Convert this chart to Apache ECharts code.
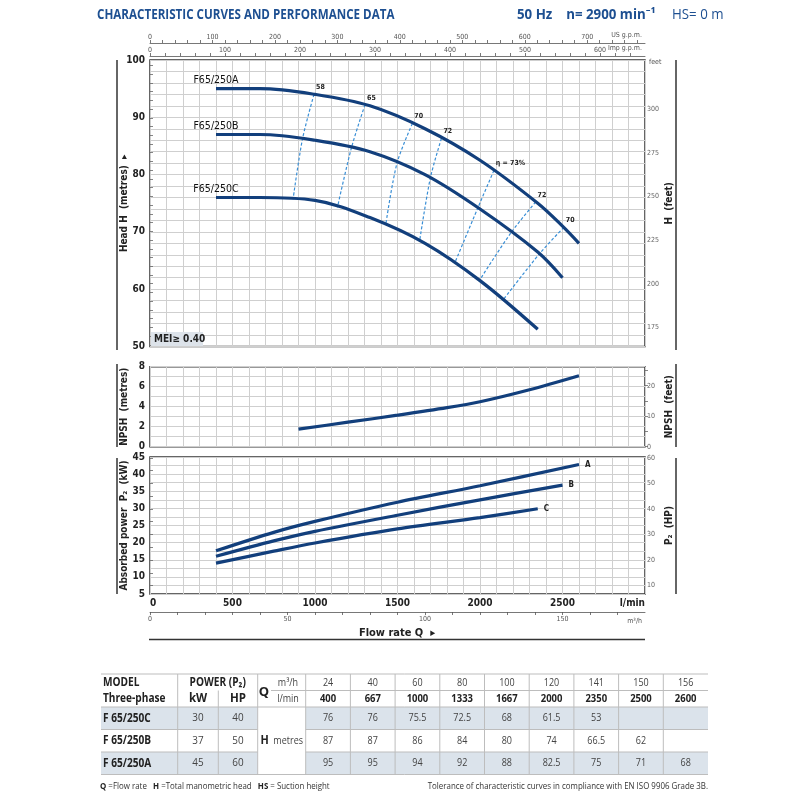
<!DOCTYPE html>
<html>
<head>
    <meta charset="utf-8" />
    <script src="https://cdn.jsdelivr.net/npm/echarts@6/dist/echarts.min.js"></script>
    <style>
        html, body { margin: 0; padding: 0; background: #fff; }
    </style>
</head>
<body>
    <div id="main" style="width: 800px;height:800px;"></div>
    <script type="text/javascript">
        // table / curve data (flow in l/min, head in metres)
        const flowLmin = [400, 667, 1000, 1333, 1667, 2000, 2350, 2500, 2600];
        const flowM3h = [24, 40, 60, 80, 100, 120, 141, 150, 156];
        const headA = [95, 95, 94, 92, 88, 82.5, 75, 71, 68];
        const headB = [87, 87, 86, 84, 80, 74, 66.5, 62];
        const headC = [76, 76, 75.5, 72.5, 68, 61.5, 53];
        const curveNames = ['F65/250A', 'F65/250B', 'F65/250C'];

        const tableModels = ['F 65/250C', 'F 65/250B', 'F 65/250A'];
        const powerKW = [30, 37, 45];
        const powerHP = [40, 50, 60];

        // efficiency iso-lines, points on A, B, C
        const effLabels = ['58', '65', '70', '72', 'η = 73%', '72', '70'];
        const effFlow = [
            [994, 924, 867], [1303, 1221, 1136], [1590, 1497, 1429], [1766, 1699, 1634],
            [2084, 1987, 1846], [2337, 2189, 1998], [2508, 2361, 2139]
        ];
        const effHead = [
            [94.0, 86.2, 75.7], [92.2, 84.7, 74.3], [88.9, 82.0, 71.3], [86.3, 79.4, 68.4],
            [80.7, 74.2, 64.5], [75.2, 69.9, 61.6], [70.8, 66.2, 58.1]
        ];

        // NPSH (m)
        const npshFlow = [900, 1200, 1500, 1800, 2000, 2300, 2600];
        const npshM = [1.75, 2.45, 3.15, 3.9, 4.5, 5.7, 7.1];

        // absorbed power P2 (kW)
        const pwrFlowA = [400, 750, 1000, 1500, 2000, 2600];
        const pwrA = [17.6, 23.0, 26.2, 31.8, 36.6, 42.8];
        const pwrFlowB = [400, 750, 1000, 1500, 2000, 2500];
        const pwrB = [16, 20.5, 23.3, 28, 32.5, 36.8];
        const pwrFlowC = [400, 750, 1000, 1500, 2000, 2350];
        const pwrC = [14, 17.5, 19.9, 24, 27.3, 29.9];

        // secondary scale ticks
        const feetLabels = [175, 200, 225, 250, 275, 300];
        const feetTicks = [165, 170, 175, 180, 185, 190, 195, 200, 205, 210, 215, 220, 225, 230, 235, 240, 245,
            250, 255, 260, 265, 270, 275, 280, 285, 290, 295, 300, 305, 310, 315, 320, 325];
        const npshFeetLabels = [0, 10, 20];
        const npshFeetTicks = [0, 5, 10, 15, 20, 25];
        const hpLabels = [10, 20, 30, 40, 50, 60];
        const hpTicks = [10, 15, 20, 25, 30, 35, 40, 45, 50, 55, 60];

        const M_TO_FT = 3.28084, KW_TO_HP = 1 / 0.7457;
        const USGPM = 3.78541, IMPGPM = 4.54609;

        const NAVY = '#123f7c';
        const DASH = '#3a8fd6';
        const GRIDC = '#cfcfcf';
        const NARROW = "'DejaVu Sans Condensed', 'Liberation Sans Narrow', Arial, sans-serif";
        const SANS = "'DejaVu Sans Condensed', 'Liberation Sans', Arial, sans-serif";
        const TFONT = "'Open Sans', 'Noto Sans', sans-serif";

        const myChart = echarts.init(document.getElementById('main'), null, { renderer: 'canvas' });

        const pairs = (xs, ys) => ys.map((y, i) => [xs[i], y]);

        function flowAxis(grid, showLabels) {
            return {
                type: 'value', gridIndex: grid, min: 0, max: 3000, interval: 100,
                axisLine: { show: false }, axisTick: { show: false },
                splitLine: { show: true, lineStyle: { color: GRIDC, width: 1 } },
                axisLabel: showLabels ? {
                    show: true, fontFamily: NARROW, fontWeight: 'bold', fontSize: 10, color: '#222', margin: 4,
                    alignMinLabel: 'left', alignMaxLabel: 'right',
                    formatter: v => v % 500 === 0 ? (v === 3000 ? 'l/min' : String(v)) : ''
                } : { show: false }
            };
        }

        function topScale(offset, max, name) {
            return {
                type: 'value', gridIndex: 0, position: 'top', offset: offset, min: 0, max: max, interval: 20,
                axisLine: { show: true, lineStyle: { color: '#555', width: 0.8 } },
                axisTick: { show: true, length: 3, lineStyle: { color: '#555', width: 0.8 } },
                splitLine: { show: false },
                axisLabel: {
                    fontFamily: NARROW, fontSize: 7, color: '#555', margin: 2,
                    showMaxLabel: false,
                    formatter: v => v % 100 === 0 ? String(v) : ''
                },
                name: name, nameLocation: 'end', nameGap: -3, nameMoveOverlap: false,
                nameTextStyle: { fontFamily: NARROW, fontSize: 7, color: '#555', align: 'right', verticalAlign: 'bottom', padding: [0, 0, 4, 0] }
            };
        }

        function leftAxis(grid, min, max, interval, every, name) {
            return {
                type: 'value', gridIndex: grid, position: 'left', min: min, max: max, interval: interval,
                axisLine: { show: false }, axisTick: { show: false },
                splitLine: { show: true, lineStyle: { color: GRIDC, width: 1 } },
                axisLabel: {
                    fontFamily: NARROW, fontWeight: 'bold', fontSize: 10, color: '#222', margin: 5,
                    formatter: v => Math.abs(v % every) < 1e-6 ? String(v) : ''
                },
                name: name, nameLocation: 'middle', nameGap: 21, nameMoveOverlap: false,
                nameTextStyle: { fontFamily: SANS, fontWeight: 'bold', fontSize: 10, color: '#222' }
            };
        }

        function rightAxis(grid, min, max, labels, ticks, name) {
            return {
                type: 'value', gridIndex: grid, position: 'right', min: min, max: max,
                axisLine: { show: false },
                axisTick: { show: true, length: 3, customValues: ticks, lineStyle: { color: '#666', width: 0.8 } },
                splitLine: { show: false },
                axisLabel: { customValues: labels, fontFamily: NARROW, fontSize: 7, color: '#666', margin: 2 },
                name: name, nameLocation: 'middle', nameGap: 19, nameMoveOverlap: false,
                nameTextStyle: { fontFamily: SANS, fontWeight: 'bold', fontSize: 10, color: '#222' }
            };
        }

        const series = [];

        // efficiency dashed iso-lines
        effLabels.forEach((lab, k) => {
            series.push({
                type: 'line', xAxisIndex: 0, yAxisIndex: 0, smooth: 0.3, symbol: 'circle', symbolSize: 0, z: 2,
                lineStyle: { color: DASH, width: 1.2, type: [3, 2] },
                label: { show: false },
                data: effFlow[k].map((q, i) => i === 0 ? {
                    value: [q, effHead[k][i]],
                    label: {
                        show: true, formatter: lab, position: 'right', offset: [-3, -7],
                        fontFamily: SANS, fontWeight: 'bold', fontSize: 7, color: '#222'
                    }
                } : [q, effHead[k][i]])
            });
        });

        // head curves
        [headA, headB, headC].forEach((h, k) => {
            series.push({
                type: 'line', xAxisIndex: 0, yAxisIndex: 0, smooth: 0.35, symbol: 'circle', symbolSize: 0, z: 5,
                lineStyle: { color: NAVY, width: 3.2 },
                label: { show: false },
                data: h.map((v, i) => i === 0 ? {
                    value: [flowLmin[i], v],
                    label: {
                        show: true, formatter: curveNames[k], position: 'top', distance: 3,
                        fontFamily: NARROW, fontSize: 10.5, color: '#111'
                    }
                } : [flowLmin[i], v])
            });
        });

        // NPSH
        series.push({
            type: 'line', xAxisIndex: 3, yAxisIndex: 2, smooth: 0.3, symbol: 'none', z: 5,
            lineStyle: { color: NAVY, width: 3.2 },
            data: pairs(npshFlow, npshM)
        });

        // power
        [[pwrFlowA, pwrA, 'A'], [pwrFlowB, pwrB, 'B'], [pwrFlowC, pwrC, 'C']].forEach(p => {
            series.push({
                type: 'line', xAxisIndex: 4, yAxisIndex: 4, smooth: 0.3, symbol: 'none', z: 5,
                lineStyle: { color: NAVY, width: 3.2 },
                endLabel: { show: true, formatter: p[2], distance: 6, fontFamily: SANS, fontWeight: 'bold', fontSize: 8, color: '#222' },
                data: pairs(p[0], p[1])
            });
        });

        // ---- graphic: header, frames, table ----
        const g = [];
        const txt = (x, y, text, o, sx) => g.push({
            type: 'text', x: x, y: y, scaleX: sx || 1, silent: true, z: 10,
            style: Object.assign({ text: text, fill: '#222', fontFamily: TFONT, fontSize: 11, align: 'left', verticalAlign: 'middle' }, o || {})
        });
        const ln = (x1, y1, x2, y2, stroke, w) => g.push({
            type: 'line', silent: true, z: 9, shape: { x1: x1, y1: y1, x2: x2, y2: y2 },
            style: { stroke: stroke, lineWidth: w }
        });
        const box = (x, y, w, h, fill) => g.push({
            type: 'rect', silent: true, z: 8, shape: { x: x, y: y, width: w, height: h }, style: { fill: fill }
        });

        txt(97, 15, 'CHARACTERISTIC CURVES AND PERFORMANCE DATA', { fill: '#1d4f91', fontWeight: 'bold', fontSize: 14 }, 0.83);
        txt(517, 15, '50 Hz    n= 2900 min⁻¹', { fill: '#1d4f91', fontWeight: 'bold', fontSize: 14 }, 0.95);
        txt(672, 15, 'HS= 0 m', { fill: '#1d4f91', fontSize: 14 }, 0.95);

        // side rules beside axis titles
        [[60, 350], [364, 447], [458, 594]].forEach(r => {
            ln(117, r[0], 117, r[1], '#333', 1.5);
            ln(676, r[0], 676, r[1], '#333', 1.5);
        });
        txt(649, 62, 'feet', { fontFamily: NARROW, fontSize: 7, fill: '#555' });

        // MEI box
        box(151, 332, 52, 14, '#dde3ea');
        txt(154, 339, 'MEI≥ 0.40', { fontFamily: SANS, fontWeight: 'bold', fontSize: 10 });

        // flow rate caption
        txt(397, 633, 'Flow rate Q  ▸', { fontWeight: 'bold', fontSize: 11, align: 'center', fontFamily: SANS });
        ln(149, 639.5, 645, 639.5, '#333', 1.5);

        // table
        const T0 = 674, TMID = 690.5, TH = 707, RH = 22.5;
        const cMod = 101, cKW = 177.7, cHP = 218.3, cQ = 257.7, cV = 305.7, VW = 44.7, TEND = cV + 9 * VW;
        const shade = '#dbe3eb', lineC = '#bdbdbd';
        [0, 2].forEach(r => {
            box(cMod, TH + r * RH, cQ - cMod, RH, shade);
            box(cV, TH + r * RH, TEND - cV, RH, shade);
        });
        ln(cMod, T0, TEND, T0, lineC, 1);
        ln(271, TMID, TEND, TMID, lineC, 1);
        ln(cMod, TH, TEND, TH, lineC, 1);
        [1, 2].forEach(r => {
            ln(cMod, TH + r * RH, cQ, TH + r * RH, lineC, 1);
            ln(cV, TH + r * RH, TEND, TH + r * RH, lineC, 1);
        });
        ln(cMod, TH + 3 * RH, TEND, TH + 3 * RH, lineC, 1);
        [cKW, cQ, cV].forEach(x => ln(x, T0, x, TH + 3 * RH, lineC, 1));
        ln(cHP, TMID, cHP, TH + 3 * RH, lineC, 1);
        for (let k = 1; k < 9; k++) ln(cV + k * VW, T0, cV + k * VW, TH + 3 * RH, lineC, 1);

        const bold = { fontWeight: 'bold', fontSize: 11.5 };
        txt(cMod + 2, 683, 'MODEL', bold, 0.88);
        txt(cMod + 2, 699, 'Three-phase', bold, 0.88);
        txt((cKW + cQ) / 2, 683, 'POWER (P₂)', { fontWeight: 'bold', fontSize: 11.5, align: 'center' }, 0.88);
        txt((cKW + cHP) / 2, 699, 'kW', { fontWeight: 'bold', fontSize: 11.5, align: 'center' });
        txt((cHP + cQ) / 2, 699, 'HP', { fontWeight: 'bold', fontSize: 11.5, align: 'center' });
        txt(264, 692, 'Q', { fontWeight: 'bold', fontSize: 13, align: 'center' });
        txt(288, 683, 'm³/h', { align: 'center', fontSize: 10, fill: '#444' }, 0.9);
        txt(288, 699, 'l/min', { align: 'center', fontSize: 10, fill: '#444' }, 0.9);
        flowM3h.forEach((v, k) => txt(cV + (k + 0.5) * VW, 683, String(v), { align: 'center', fontSize: 10, fill: '#444' }, 0.9));
        flowLmin.forEach((v, k) => txt(cV + (k + 0.5) * VW, 699, String(v), { align: 'center', fontSize: 10.5, fontWeight: 'bold' }, 0.9));
        const tableHeads = [headC, headB, headA];
        tableModels.forEach((m, r) => {
            const y = TH + (r + 0.5) * RH;
            txt(cMod + 2, y, m, bold, 0.88);
            txt((cKW + cHP) / 2, y, String(powerKW[r]), { align: 'center', fontSize: 11, fill: '#444' }, 0.9);
            txt((cHP + cQ) / 2, y, String(powerHP[r]), { align: 'center', fontSize: 11, fill: '#444' }, 0.9);
            tableHeads[r].forEach((v, k) => txt(cV + (k + 0.5) * VW, y, String(v), { align: 'center', fontSize: 10, fill: '#444' }, 0.9));
        });
        txt((cQ + cV) / 2, TH + 1.5 * RH, '{b|H}  metres', {
            align: 'center', fontSize: 10, fill: '#444',
            rich: { b: { fontFamily: TFONT, fontWeight: 'bold', fontSize: 12, fill: '#222' } }
        }, 0.9);
        txt(100, 786, '{b|Q} =Flow rate   {b|H} =Total manometric head   {b|HS} = Suction height', {
            fontSize: 9, fill: '#333', rich: { b: { fontFamily: TFONT, fontWeight: 'bold', fontSize: 9, fill: '#222' } }
        }, 0.88);
        g.push({
            type: 'text', x: 708, y: 786, scaleX: 0.88, silent: true, z: 10,
            style: { text: 'Tolerance of characteristic curves in compliance with EN ISO 9906 Grade 3B.', fill: '#333', fontFamily: TFONT, fontSize: 9, align: 'right', verticalAlign: 'middle' }
        });

        const gridBox = { show: true, borderColor: '#333', borderWidth: 1.5, backgroundColor: 'transparent', containLabel: false };
        const option = {
            animation: false,
            backgroundColor: '#fff',
            grid: [
                Object.assign({ left: 150, top: 60, width: 495, height: 286.5 }, gridBox),
                Object.assign({ left: 150, top: 366.7, width: 495, height: 80 }, gridBox),
                Object.assign({ left: 150, top: 457, width: 495, height: 137 }, gridBox)
            ],
            xAxis: [
                flowAxis(0, false),
                topScale(17, 3000 / USGPM, 'US g.p.m.'),
                topScale(4, 3000 / IMPGPM, 'Imp g.p.m.'),
                flowAxis(1, false),
                flowAxis(2, true),
                {
                    type: 'value', gridIndex: 2, position: 'bottom', offset: 18, min: 0, max: 180, interval: 10,
                    axisLine: { show: true, lineStyle: { color: '#555', width: 0.8 } },
                    axisTick: { show: true, length: 3, lineStyle: { color: '#555', width: 0.8 } },
                    splitLine: { show: false },
                    axisLabel: {
                        fontFamily: NARROW, fontSize: 7, color: '#555', margin: 4, showMaxLabel: false,
                        formatter: v => v % 50 === 0 ? String(v) : ''
                    },
                    name: 'm³/h', nameLocation: 'end', nameGap: -3, nameMoveOverlap: false,
                    nameTextStyle: { fontFamily: NARROW, fontSize: 7, color: '#555', align: 'right', verticalAlign: 'top', padding: [6, 0, 0, 0] }
                }
            ],
            yAxis: [
                leftAxis(0, 50, 100, 2, 10, 'Head H  (metres)  ▸'),
                rightAxis(0, 50 * M_TO_FT, 100 * M_TO_FT, feetLabels, feetTicks, 'H  (feet)'),
                leftAxis(1, 0, 8, 1, 2, 'NPSH  (metres)'),
                rightAxis(1, 0, 8 * M_TO_FT, npshFeetLabels, npshFeetTicks, 'NPSH  (feet)'),
                leftAxis(2, 5, 45, 2.5, 5, 'Absorbed power  P₂  (kW)'),
                rightAxis(2, 5 * KW_TO_HP, 45 * KW_TO_HP, hpLabels, hpTicks, 'P₂  (HP)')
            ],
            series: series,
            graphic: g
        };

        myChart.setOption(option);
        window.addEventListener('resize', myChart.resize);
    </script>
</body>
</html>
